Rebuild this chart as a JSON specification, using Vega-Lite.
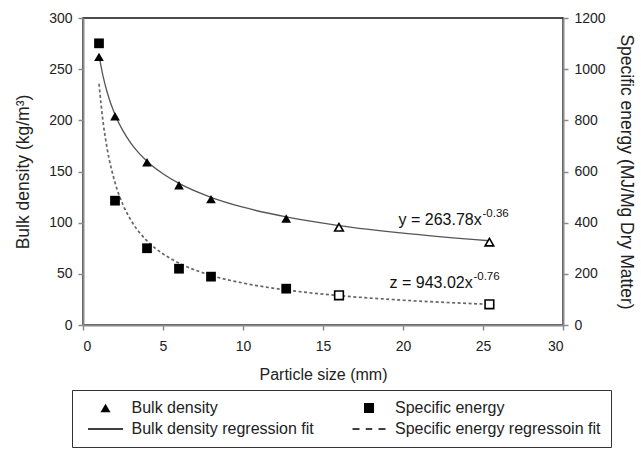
{
  "$schema": "https://vega.github.io/schema/vega-lite/v6.json",
  "width": 480,
  "height": 307,
  "autosize": {"type": "none"},
  "padding": {"left": 83, "top": 18, "right": 78, "bottom": 124},
  "datasets": {
    "bulk": [
      {"size": 1, "value": 262, "series": "Bulk density", "hollow": false},
      {"size": 2, "value": 204, "series": "Bulk density", "hollow": false},
      {"size": 4, "value": 159, "series": "Bulk density", "hollow": false},
      {"size": 6, "value": 136.5, "series": "Bulk density", "hollow": false},
      {"size": 8, "value": 123, "series": "Bulk density", "hollow": false},
      {"size": 12.7, "value": 104, "series": "Bulk density", "hollow": false},
      {"size": 16, "value": 95.5, "series": "Bulk density", "hollow": true},
      {"size": 25.4, "value": 81, "series": "Bulk density", "hollow": true}
    ],
    "energy": [
      {"size": 1, "value": 1101, "series": "Specific energy", "hollow": false},
      {"size": 2, "value": 486, "series": "Specific energy", "hollow": false},
      {"size": 4, "value": 300, "series": "Specific energy", "hollow": false},
      {"size": 6, "value": 220, "series": "Specific energy", "hollow": false},
      {"size": 8, "value": 189, "series": "Specific energy", "hollow": false},
      {"size": 12.7, "value": 142, "series": "Specific energy", "hollow": false},
      {"size": 16, "value": 116, "series": "Specific energy", "hollow": true},
      {"size": 25.4, "value": 81, "series": "Specific energy", "hollow": true}
    ],
    "bulkfit": [
      {"size": 1, "value": 263.8},
      {"size": 1.25, "value": 243.4},
      {"size": 1.5, "value": 227.9},
      {"size": 2, "value": 205.5},
      {"size": 2.5, "value": 189.7},
      {"size": 3, "value": 177.6},
      {"size": 4, "value": 160.1},
      {"size": 5, "value": 147.8},
      {"size": 6, "value": 138.4},
      {"size": 8, "value": 124.8},
      {"size": 10, "value": 115.1},
      {"size": 12.7, "value": 105.6},
      {"size": 16, "value": 97.2},
      {"size": 20, "value": 89.7},
      {"size": 25.4, "value": 82.3}
    ],
    "energyfit": [
      {"size": 1, "value": 943},
      {"size": 1.25, "value": 796},
      {"size": 1.5, "value": 693},
      {"size": 2, "value": 557},
      {"size": 2.5, "value": 470},
      {"size": 3, "value": 409},
      {"size": 4, "value": 329},
      {"size": 5, "value": 278},
      {"size": 6, "value": 242},
      {"size": 8, "value": 194},
      {"size": 10, "value": 164},
      {"size": 12.7, "value": 137},
      {"size": 16, "value": 115},
      {"size": 20, "value": 97},
      {"size": 25.4, "value": 81}
    ],
    "bulklabel": [
      {"size": 19.72, "value": 102.6, "text": "y = 263.78x", "sup": false},
      {"size": 24.97, "value": 108.5, "text": "-0.36", "sup": true}
    ],
    "energylabel": [
      {"size": 19.16, "value": 164, "text": "z = 943.02x", "sup": false},
      {"size": 24.4, "value": 188, "text": "-0.76", "sup": true}
    ]
  },
  "layer": [
    {
      "encoding": {
        "x": {"field": "size", "type": "quantitative", "scale": {"domain": [0, 30], "nice": false}, "axis": {"values": [0, 5, 10, 15, 20, 25, 30], "title": "Particle size (mm)"}},
        "y": {"field": "value", "type": "quantitative", "scale": {"domain": [0, 300], "nice": false}, "axis": {"orient": "left", "values": [0, 50, 100, 150, 200, 250, 300], "title": "Bulk density (kg/m³)", "titlePadding": 16, "titleFontSize": 17.5}}
      },
      "layer": [
        {
          "data": {"name": "bulkfit"},
          "mark": {"type": "line", "interpolate": "monotone", "color": "#555", "strokeWidth": 1.3}
        },
        {
          "data": {"name": "bulk"},
          "transform": [{"filter": "!datum.hollow"}],
          "mark": {"type": "point", "filled": true, "color": "black", "opacity": 1, "size": 95},
          "encoding": {
            "shape": {
              "field": "series", "type": "nominal",
              "scale": {"domain": ["Bulk density", "Bulk density regression fit", "Specific energy", "Specific energy regressoin fit"], "range": ["triangle-up", "M-3.5,-0.13H3.5V0.13H-3.5Z", "square", "M-3.3,-0.13H-1.9V0.13H-3.3ZM-0.65,-0.13H0.65V0.13H-0.65ZM1.9,-0.13H3.3V0.13H1.9Z"]},
              "legend": {
                "orient": "none", "legendX": -11, "legendY": 372, "title": null, "columns": 2, "padding": 10,
                "strokeColor": "#333", "fillColor": "white", "symbolSize": 100, "symbolFillColor": "black",
                "symbolStrokeWidth": 0, "symbolOffset": 15.5, "labelOffset": 18,
                "columnPadding": 31.5, "rowPadding": 5, "labelFontSize": 16, "labelColor": "#222", "labelLimit": 400,
                "encode": {"symbols": {"update": {"fill": {"value": "black"}, "fillOpacity": {"value": 1}, "opacity": {"value": 1}}}}
              }
            }
          }
        },
        {
          "data": {"name": "bulk"},
          "transform": [{"filter": "datum.hollow"}],
          "mark": {"type": "point", "filled": true, "shape": "triangle-up", "fill": "white", "stroke": "black", "strokeWidth": 1.6, "opacity": 1, "size": 75}
        },
        {
          "data": {"name": "bulklabel"},
          "transform": [{"filter": "!datum.sup"}],
          "mark": {"type": "text", "align": "left", "baseline": "middle", "fontSize": 16, "color": "#111"},
          "encoding": {"text": {"field": "text"}}
        },
        {
          "data": {"name": "bulklabel"},
          "transform": [{"filter": "datum.sup"}],
          "mark": {"type": "text", "align": "left", "baseline": "middle", "fontSize": 11.5, "color": "#111"},
          "encoding": {"text": {"field": "text"}}
        }
      ]
    },
    {
      "encoding": {
        "x": {"field": "size", "type": "quantitative", "scale": {"domain": [0, 30], "nice": false}, "axis": {"values": [0, 5, 10, 15, 20, 25, 30], "title": "Particle size (mm)"}},
        "y": {"field": "value", "type": "quantitative", "scale": {"domain": [0, 1200], "nice": false}, "axis": {"orient": "right", "values": [0, 200, 400, 600, 800, 1000, 1200], "format": "d", "title": "Specific energy (MJ/Mg Dry Matter)", "titlePadding": 11, "titleFontSize": 17.5}}
      },
      "layer": [
        {
          "data": {"name": "energyfit"},
          "mark": {"type": "line", "interpolate": "monotone", "color": "#666", "strokeWidth": 1.7, "strokeDash": [3, 2.5]}
        },
        {
          "data": {"name": "energy"},
          "transform": [{"filter": "!datum.hollow"}],
          "mark": {"type": "point", "filled": true, "color": "black", "opacity": 1, "size": 95},
          "encoding": {
            "shape": {
              "field": "series", "type": "nominal",
              "scale": {"domain": ["Bulk density", "Bulk density regression fit", "Specific energy", "Specific energy regressoin fit"], "range": ["triangle-up", "M-3.5,-0.13H3.5V0.13H-3.5Z", "square", "M-3.3,-0.13H-1.9V0.13H-3.3ZM-0.65,-0.13H0.65V0.13H-0.65ZM1.9,-0.13H3.3V0.13H1.9Z"]}
            }
          }
        },
        {
          "data": {"name": "energy"},
          "transform": [{"filter": "datum.hollow"}],
          "mark": {"type": "point", "filled": true, "shape": "square", "fill": "white", "stroke": "black", "strokeWidth": 1.6, "opacity": 1, "size": 75}
        },
        {
          "data": {"name": "energylabel"},
          "transform": [{"filter": "!datum.sup"}],
          "mark": {"type": "text", "align": "left", "baseline": "middle", "fontSize": 16, "color": "#111"},
          "encoding": {"text": {"field": "text"}}
        },
        {
          "data": {"name": "energylabel"},
          "transform": [{"filter": "datum.sup"}],
          "mark": {"type": "text", "align": "left", "baseline": "middle", "fontSize": 11.5, "color": "#111"},
          "encoding": {"text": {"field": "text"}}
        }
      ]
    }
  ],
  "resolve": {"scale": {"y": "independent"}},
  "config": {
    "font": "Liberation Sans",
    "view": {"stroke": "#111", "strokeWidth": 1.5},
    "axis": {"grid": false, "domainColor": "#8a8a8a", "domainWidth": 2, "tickColor": "#8a8a8a", "tickWidth": 1.5, "tickSize": 5, "labelColor": "#222", "labelFontSize": 14, "labelPadding": 6, "titleFontSize": 16, "titleFontWeight": "normal", "titleColor": "#222"},
    "axisX": {"titlePadding": 13, "labelPadding": 9}
  }
}
